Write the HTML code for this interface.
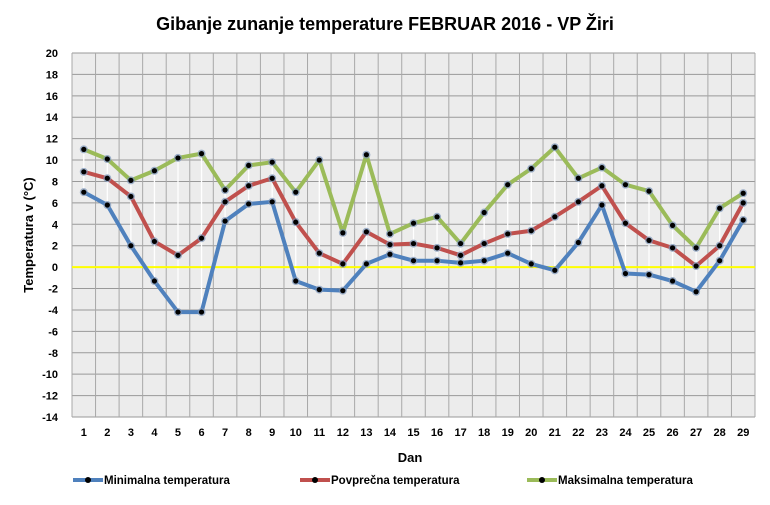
<!DOCTYPE html>
<html><head><meta charset="utf-8"><style>
body{margin:0;background:#fff;}
svg{display:block;font-family:"Liberation Sans",sans-serif;}
</style></head><body>
<svg id="s" width="770" height="505" xmlns="http://www.w3.org/2000/svg">
<text x="385" y="30" text-anchor="middle" font-size="18" font-weight="bold">Gibanje zunanje temperature FEBRUAR 2016 - VP Žiri</text>
<text transform="translate(33,235) rotate(-90)" text-anchor="middle" font-size="13" font-weight="bold">Temperatura v (°C)</text>
<text x="410" y="462" text-anchor="middle" font-size="13" font-weight="bold">Dan</text>
<g id="g"></g>
</svg>
<script>
var L=72,R=755,T=53,B=417,n=29,w=(R-L)/n;
function Y(v){return T+(20-v)*(B-T)/34;}
function X(i){return L+(i+0.5)*w;}
var mn=[7.0,5.8,2.0,-1.3,-4.2,-4.2,4.3,5.9,6.1,-1.3,-2.1,-2.2,0.3,1.2,0.6,0.6,0.4,0.6,1.3,0.3,-0.3,2.3,5.8,-0.6,-0.7,-1.3,-2.3,0.6,4.4];
var av=[8.9,8.3,6.6,2.4,1.1,2.7,6.1,7.6,8.3,4.2,1.3,0.3,3.3,2.1,2.2,1.8,1.1,2.2,3.1,3.4,4.7,6.1,7.6,4.1,2.5,1.8,0.1,2.0,6.0];
var mx=[11.0,10.1,8.1,9.0,10.2,10.6,7.2,9.5,9.8,7.0,10.0,3.2,10.5,3.1,4.1,4.7,2.2,5.1,7.7,9.2,11.2,8.3,9.3,7.7,7.1,3.9,1.8,5.5,6.9];
var h='<rect x="'+L+'" y="'+T+'" width="'+(R-L)+'" height="'+(B-T)+'" fill="#ececec"/>';
for(var v=-14;v<=20;v+=2){h+='<line x1="'+L+'" x2="'+R+'" y1="'+Y(v)+'" y2="'+Y(v)+'" stroke="#999" stroke-width="1"/>';
h+='<text x="58" y="'+(Y(v)+4)+'" text-anchor="end" font-size="11" font-weight="bold">'+v+'</text>';}
for(var i=0;i<=n;i++){var x=L+i*w;h+='<line x1="'+x+'" x2="'+x+'" y1="'+T+'" y2="'+B+'" stroke="#a8a8a8"/>';}
for(var i=0;i<n;i++){h+='<text x="'+X(i)+'" y="436" text-anchor="middle" font-size="11" font-weight="bold">'+(i+1)+'</text>';
h+='<line x1="'+X(i)+'" x2="'+X(i)+'" y1="'+Y(mx[i])+'" y2="'+Y(Math.min(mn[i],av[i]))+'" stroke="#fff" stroke-width="1.3"/>';}
h+='<line x1="'+L+'" x2="'+R+'" y1="'+Y(0)+'" y2="'+Y(0)+'" stroke="#ffff00" stroke-width="2"/>';
function ser(d,c){var p=d.map(function(v,i){return X(i)+','+Y(v)}).join(' ');
var s='<polyline points="'+p+'" fill="none" stroke="'+c+'" stroke-width="4" stroke-linejoin="round"/>';
d.forEach(function(v,i){s+='<circle cx="'+X(i)+'" cy="'+Y(v)+'" r="4" fill="#7a94b8" opacity="0.7"/><circle cx="'+X(i)+'" cy="'+Y(v)+'" r="2.6" fill="#000"/>';});return s;}
h+=ser(mx,'#9bbb59')+ser(av,'#c0504d')+ser(mn,'#4f81bd');
var lg=[[73,'#4f81bd','Minimalna temperatura'],[300,'#c0504d','Povprečna temperatura'],[527,'#9bbb59','Maksimalna temperatura']];
lg.forEach(function(l){h+='<line x1="'+l[0]+'" x2="'+(l[0]+30)+'" y1="480" y2="480" stroke="'+l[1]+'" stroke-width="4"/><circle cx="'+(l[0]+15)+'" cy="480" r="3" fill="#000"/><text x="'+(l[0]+31)+'" y="484" font-size="11.5" font-weight="bold">'+l[2]+'</text>';});
document.getElementById('g').innerHTML=h;
</script>
</body></html>
